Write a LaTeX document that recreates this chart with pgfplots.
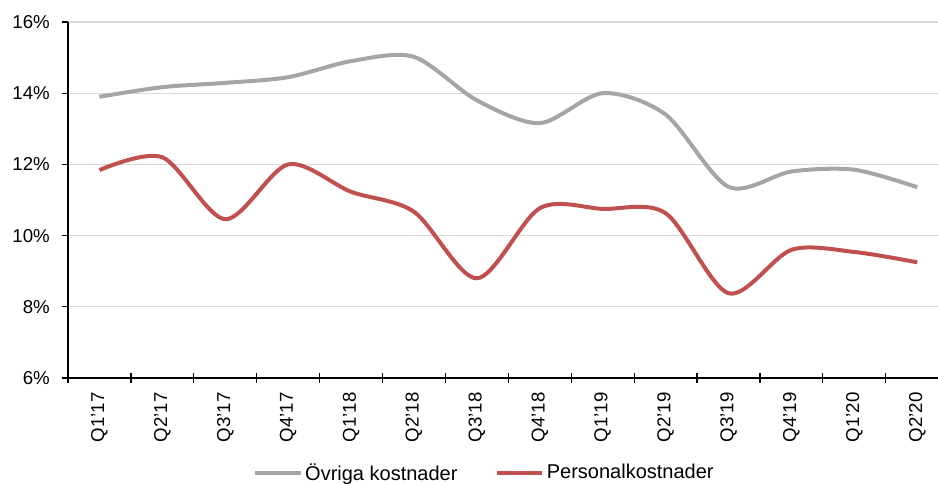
\documentclass[border=0pt]{standalone}
\usepackage{pgfplots}
\pgfplotsset{compat=1.18}
\usepackage{fontspec}
\setmainfont{Liberation Sans}
\definecolor{grayline}{HTML}{A5A5A5}
\definecolor{redline}{HTML}{C0504D}
\definecolor{gridc}{HTML}{D9D9D9}
\begin{document}
\begin{tikzpicture}
\useasboundingbox (-51pt,-79.5pt) rectangle (652.5pt,283.5pt);
\begin{axis}[
  at={(0,0)}, anchor=south west,
  scale only axis,
  width=652.5pt, height=267pt,
  xmin=-0.5, xmax=13.33,
  ymin=6, ymax=16,
  axis x line=bottom, axis y line=left,
  axis line style={-, black, line width=0.9pt},
  xtick={0,...,13},
  xticklabels={Q1'17,Q2'17,Q3'17,Q4'17,Q1'18,Q2'18,Q3'18,Q4'18,Q1'19,Q2'19,Q3'19,Q4'19,Q1'20,Q2'20},
  x tick label style={yshift=-6pt, rotate=90, anchor=east, inner sep=0pt},
  major x tick style={draw=none},
  minor xtick={-0.5,0.5,...,12.5},
  minor x tick style={black, line width=0.9pt, yshift=3.75pt},
  minor tick length=7.5pt,
  ytick={6,8,10,12,14,16},
  yticklabels={6\%,8\%,10\%,12\%,14\%,16\%},
  y tick style={black, line width=0.9pt},
  tick align=outside,
  major tick length=4.5pt,
  y tick label style={inner sep=0pt, xshift=-9pt},
  ymajorgrids,
  grid style={gridc, line width=1pt},
  tick label style={font=\fontsize{14}{16}\selectfont},
  clip=false,
  legend style={at={(0.479,-0.266)}, anchor=center, draw=none, fill=none,
    font=\fontsize{15}{17}\selectfont, legend columns=2,
    /tikz/every even column/.append style={column sep=26pt}},
  legend cell align=left,
  legend image code/.code={\draw[#1, line width=3pt] (0pt,0pt) -- (34pt,0pt);},
]
\addplot[grayline, line width=3pt, smooth, tension=0.5] coordinates {
(0,13.90) (1,14.17) (2,14.29) (3,14.45) (4,14.90) (5,15.02) (6,13.80)
(7,13.16) (8,14.00) (9,13.40) (10,11.37) (11,11.80) (12,11.85) (13,11.36)};
\addlegendentry{Övriga kostnader}
\addplot[redline, line width=3pt, smooth, tension=0.5] coordinates {
(0,11.84) (1,12.20) (2,10.46) (3,12.00) (4,11.23) (5,10.67) (6,8.80)
(7,10.77) (8,10.75) (9,10.63) (10,8.38) (11,9.60) (12,9.54) (13,9.25)};
\addlegendentry{Personalkostnader}
\end{axis}
\end{tikzpicture}
\end{document}
